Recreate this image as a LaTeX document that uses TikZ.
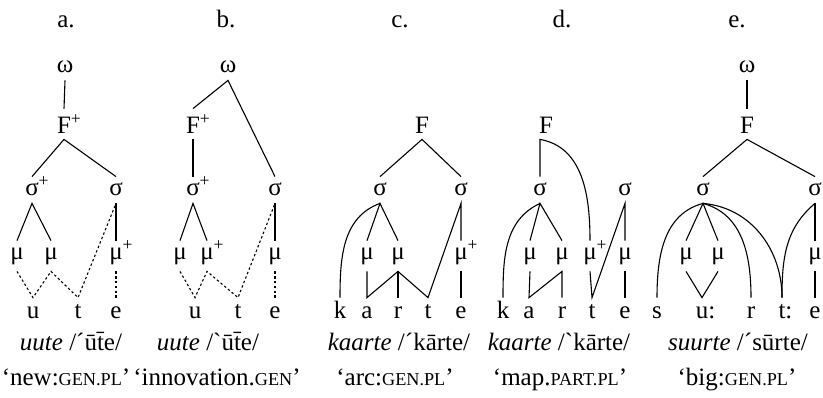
\documentclass[tikz,border=0pt]{standalone}
\usepackage{fontspec}
\setmainfont{Liberation Serif}
\newcommand{\gl}[1]{{\fontsize{9.1}{10}\selectfont #1}}
\newcommand{\plus}{\rlap{\textsuperscript{+}}}

\begin{document}
\begin{tikzpicture}[x=0.5pt,y=-0.5pt,font=\fontsize{12.5}{14}\selectfont,
    every node/.style={inner xsep=0pt,inner ysep=3pt,anchor=base},
    tier/.style={text height=6pt,text depth=1pt},
    foot/.style={text height=9pt,text depth=0pt},
    mora/.style={text height=6pt,text depth=3pt},
    seg/.style={text height=7pt,text depth=0pt},
    assoc/.style={line width=0.55pt},
    delink/.style={line width=0.55pt,dash pattern=on 1.2pt off 1.2pt}]
            \useasboundingbox (0,0) rectangle (823,397);

            % a.
            \node (la) at (66,27) {a.};
            \node [tier] (wa) at (65,72) {ω};
            \node [foot] (Fa) at (64,133) {F\plus};
            \node [tier] (siga1) at (32,195) {σ\plus};
            \node [tier] (siga2) at (116,195) {σ};
            \node [mora] (mua1) at (17,259) {μ};
            \node [mora] (mua2) at (51,259) {μ};
            \node [mora] (mua3) at (116,259) {μ\plus};
            \node [seg] (ua) at (33,318) {u};
            \node [seg] (ta) at (78,318) {t};
            \node [seg] (ea) at (116,318) {e};
            \node (capa1) at (71,350) {\textit{uute} /ˊūt̄e/};
            \node (capa2) at (66,385) {‘new:\gl{GEN.PL}’};

            \draw [assoc] (wa.south) -- (Fa.north);
            \draw [assoc] (siga1.north) -- (Fa.south) -- (siga2.north);
            \draw [assoc] (mua1.north) -- (siga1.south) -- (mua2.north);
            \draw [assoc] (siga2.south) -- (mua3.north);
            \draw [delink] (mua1.south) -- (ua.north) -- (mua2.south) -- (ta.north) -- (siga2.south);
            \draw [delink] (mua3.south) -- (ea.north);

            % b.
            \node (lb) at (226,27) {b.};
            \node [tier] (wb) at (228,72) {ω};
            \node [foot] (Fb) at (193,133) {F\plus};
            \node [tier] (sigb1) at (193,195) {σ\plus};
            \node [tier] (sigb2) at (275,195) {σ};
            \node [mora] (mub1) at (180,259) {μ};
            \node [mora] (mub2) at (207,259) {μ\plus};
            \node [mora] (mub3) at (275,259) {μ};
            \node [seg] (ub) at (195,318) {u};
            \node [seg] (tb) at (238,318) {t};
            \node [seg] (eb) at (275,318) {e};
            \node (capb1) at (208,350) {\textit{uute} /ˋūt̄e/};
            \node (capb2) at (217,385) {‘innovation.\gl{GEN}’};

            \draw [assoc] (Fb.north) -- (wb.south) -- (sigb2.north);
            \draw [assoc] (Fb.south) -- (sigb1.north);
            \draw [assoc] (mub1.north) -- (sigb1.south) -- (mub2.north);
            \draw [assoc] (sigb2.south) -- (mub3.north);
            \draw [delink] (mub1.south) -- (ub.north) -- (mub2.south) -- (tb.north) -- (sigb2.south);
            \draw [delink] (mub3.south) -- (eb.north);

            % c.
            \node (lc) at (400,27) {c.};
            \node [foot] (Fc) at (422,133) {F};
            \node [tier] (sigc1) at (380,195) {σ};
            \node [tier] (sigc2) at (461,195) {σ};
            \node [mora] (muc1) at (367,259) {μ};
            \node [mora] (muc2) at (398,259) {μ};
            \node [mora] (muc3) at (461,259) {μ\plus};
            \node [seg] (kc) at (340,318) {k};
            \node [seg] (ac) at (367,318) {a};
            \node [seg] (rc) at (398,318) {r};
            \node [seg] (tc) at (428,318) {t};
            \node [seg] (ec) at (461,318) {e};
            \node (capc1) at (399,350) {\textit{kaarte} /ˊkārte/};
            \node (capc2) at (395,385) {‘arc:\gl{GEN.PL}’};

            \draw [assoc] (sigc1.north) -- (Fc.south) -- (sigc2.north);
            \draw [assoc] (muc1.north) -- (sigc1.south) -- (muc2.north);
            \draw [assoc] (sigc1.south) to [out=200,in=90] (kc.north);
            \draw [assoc] (muc1.south) -- (ac.north) -- (muc2.south) -- (tc.north) -- (sigc2.south) -- (muc3.north);
            \draw [assoc] (muc2.south) -- (rc.north);
            \draw [assoc] (muc3.south) -- (ec.north);

            % d.
            \node (ld) at (562,27) {d.};
            \node [foot] (Fd) at (546,133) {F};
            \node [tier] (sigd1) at (540,195) {σ};
            \node [tier] (sigd2) at (625,195) {σ};
            \node [mora] (mud1) at (530,259) {μ};
            \node [mora] (mud2) at (562,259) {μ};
            \node [mora] (mud3) at (590,259) {μ\plus};
            \node [mora] (mud4) at (625,259) {μ};
            \node [seg] (kd) at (503,318) {k};
            \node [seg] (ad) at (529,318) {a};
            \node [seg] (rd) at (562,318) {r};
            \node [seg] (td) at (592,318) {t};
            \node [seg] (ed) at (625,318) {e};
            \node (capd1) at (559,350) {\textit{kaarte} /ˋkārte/};
            \node (capd2) at (560,385) {‘map.\gl{PART.PL}’};

            \draw [assoc] (sigd1.north) -- (Fd.south -| sigd1.north) to [out=-10,in=90] (mud3.north);
            \draw [assoc] (mud1.north) -- (sigd1.south) -- (mud2.north);
            \draw [assoc] (sigd1.south) to [out=205,in=90] (kd.north);
            \draw [assoc] (mud1.south) -- (ad.north) -- (mud2.south) -- (rd.north);
            \draw [assoc] (mud3.south) -- (td.north) -- (sigd2.south) -- (mud4.north);
            \draw [assoc] (mud4.south) -- (ed.north);

            % e.
            \node (le) at (737,27) {e.};
            \node [tier] (we) at (747,72) {ω};
            \node [foot] (Fe) at (747,133) {F};
            \node [tier] (sige1) at (703,195) {σ};
            \node [tier] (sige2) at (815,195) {σ};
            \node [mora] (mue1) at (686,259) {μ};
            \node [mora] (mue2) at (718,259) {μ};
            \node [mora] (mue3) at (815,259) {μ};
            \node [seg] (se) at (657,318) {s};
            \node [seg] (ue) at (702,318) {u\rlap{:}};
            \node [seg] (re) at (751,318) {r};
            \node [seg] (te) at (782,318) {t\rlap{:}};
            \node [seg] (ee) at (815,318) {e};
            \node (cape1) at (738,350) {\textit{suurte} /ˊsūrte/};
            \node (cape2) at (737,385) {‘big:\gl{GEN.PL}’};

            \draw [assoc] (we.south) -- (Fe.north);
            \draw [assoc] (sige1.north) -- (Fe.south) -- (sige2.north);
            \draw [assoc] (mue1.north) -- (sige1.south) -- (mue2.north);
            \draw [assoc] (mue1.south) -- (ue.north) -- (mue2.south);
            \draw [assoc] (sige1.south) to [out=195,in=90] (se.north);
            \draw [assoc] (sige1.south) to [out=-15,in=90] (re.north);
            \draw [assoc] (sige1.south) to [out=-5,in=90] (te.north);
            \draw [assoc] (sige2.south) to [out=220,in=90] (te.north);
            \draw [assoc] (sige2.south) -- (mue3.north);
            \draw [assoc] (mue3.south) -- (ee.north);
        \end{tikzpicture}
\end{document}
